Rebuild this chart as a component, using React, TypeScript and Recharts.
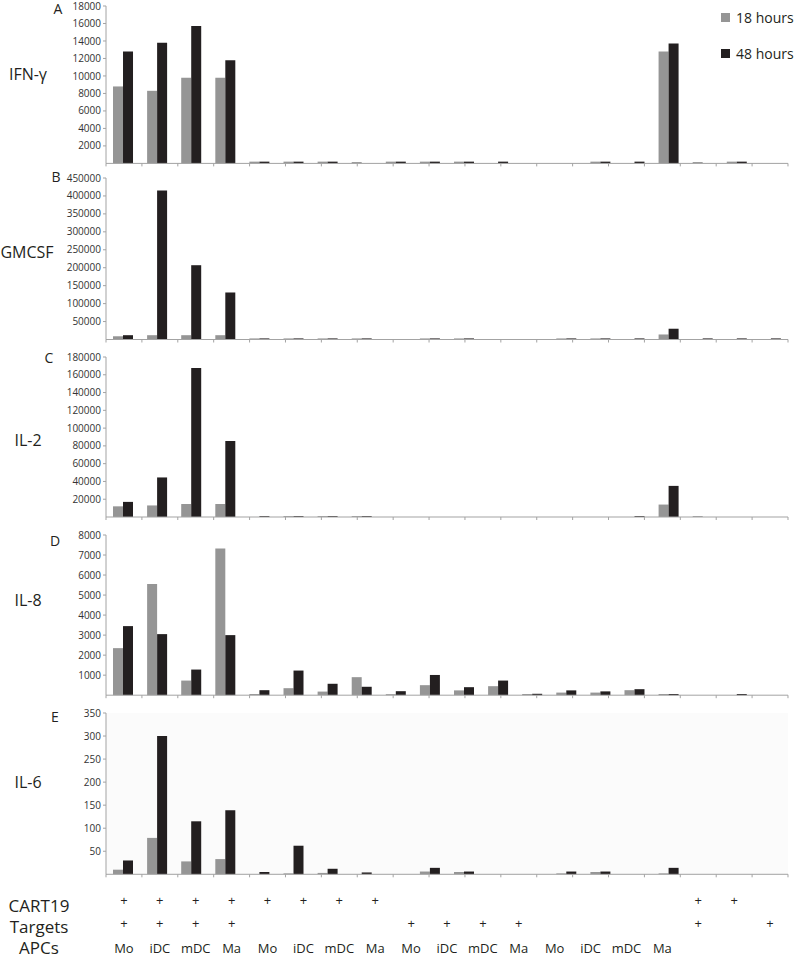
import React from 'react'
import { BarChart, Bar, XAxis, YAxis, CartesianGrid } from 'recharts'

const FONT = '"Open Sans", Arial, sans-serif'
const GREY = '#959595'
const BLACK = '#231f20'
const AXIS = '#a3a3a3'
const INK = '#231f20'

// 20 conditions: 4 APC blocks (CART19+targets, CART19, targets, APC only) + 3 controls + empty
const apcs = ['Mo', 'iDC', 'mDC', 'Ma', 'Mo', 'iDC', 'mDC', 'Ma', 'Mo', 'iDC', 'mDC', 'Ma', 'Mo', 'iDC', 'mDC', 'Ma', '', '', '', '']
const cart19 = [1, 1, 1, 1, 1, 1, 1, 1, 0, 0, 0, 0, 0, 0, 0, 0, 1, 1, 0, 0]
const targets = [1, 1, 1, 1, 0, 0, 0, 0, 1, 1, 1, 1, 0, 0, 0, 0, 1, 0, 1, 0]

const ifn18 = [8800, 8300, 9800, 9800, 200, 200, 200, 150, 200, 200, 200, 0, 0, 0, 200, 0, 12800, 150, 200, 0]
const ifn48 = [12800, 13800, 15700, 11800, 200, 200, 200, 0, 200, 200, 200, 200, 0, 0, 200, 200, 13700, 0, 200, 0]
const gm18 = [9000, 12000, 12000, 12000, 3000, 3000, 3000, 3000, 0, 3000, 3000, 0, 0, 3000, 3000, 0, 14000, 0, 0, 0]
const gm48 = [12000, 415000, 207000, 131000, 3000, 3000, 3000, 3000, 0, 3000, 3000, 0, 0, 3000, 3000, 3000, 30000, 3000, 3000, 3000]
const il2h18 = [12000, 13000, 14600, 14600, 0, 1000, 1000, 1000, 0, 0, 0, 0, 0, 0, 0, 0, 14000, 1000, 0, 0]
const il2h48 = [17000, 44500, 167500, 85500, 1000, 1000, 1000, 1000, 0, 0, 0, 0, 0, 0, 0, 1000, 35000, 0, 0, 0]
const il8h18 = [2350, 5550, 730, 7330, 60, 350, 180, 900, 50, 500, 240, 450, 60, 130, 130, 250, 60, 0, 0, 0]
const il8h48 = [3450, 3050, 1280, 3000, 250, 1230, 570, 420, 200, 1010, 400, 730, 70, 240, 190, 300, 60, 0, 60, 0]
const il6h18 = [10, 79, 28, 33, 0, 2, 3, 0, 0, 6, 5, 0, 0, 2, 5, 0, 2, 0, 0, 0]
const il6h48 = [30, 300, 115, 139, 5, 62, 12, 4, 0, 14, 6, 0, 0, 6, 6, 0, 14, 0, 0, 0]

const ifnTicks = [2000, 4000, 6000, 8000, 10000, 12000, 14000, 16000, 18000]
const gmTicks = [50000, 100000, 150000, 200000, 250000, 300000, 350000, 400000, 450000]
const il2Ticks = [20000, 40000, 60000, 80000, 100000, 120000, 140000, 160000, 180000]
const il8Ticks = [1000, 2000, 3000, 4000, 5000, 6000, 7000, 8000]
const il6Ticks = [50, 100, 150, 200, 250, 300, 350]

const N = apcs.length
const edgeTicks = Array.from({ length: N + 1 }, (_, i) => i)
const tableTicks = [...edgeTicks, ...apcs.map((_, i) => i + 0.5)]

const MT = 10

function EdgeTick(props: any) {
  const { x, y, payload, table } = props
  const v = payload.value
  if (Number.isInteger(v)) return <line x1={x} x2={x} y1={y} y2={y + 3} stroke={AXIS} />
  if (!table) return <g />
  const i = Math.floor(v)
  return (
    <g fontFamily={FONT} fill={INK} stroke="none" textAnchor="middle">
      {cart19[i] ? <text x={x} y={y + 26} fontSize={13} dominantBaseline="central">+</text> : null}
      {targets[i] ? <text x={x} y={y + 49} fontSize={13} dominantBaseline="central">+</text> : null}
      <text x={x} y={y + 74} fontSize={13} dominantBaseline="central">{apcs[i]}</text>
    </g>
  )
}

function Panel({ s18, s48, ticks, topY, zeroY, table, shade }: any) {
  const data = apcs.map((a, i) => ({ apc: a + i, h18: s18[i], h48: s48[i] }))
  const axisH = table ? 84 : 5
  const height = MT + (zeroY - topY) + axisH
  return (
    <div style={{ position: 'absolute', left: 0, top: topY - MT }}>
      <BarChart width={800} height={height} data={data} barSize={10} barGap={0}
        margin={{ top: MT, right: 12, left: 56, bottom: 0 }}>
        {shade ? <CartesianGrid horizontal={false} vertical={false} fill="#fbfbfb" /> : null}
        <XAxis xAxisId="cat" dataKey="apc" hide height={0} />
        <XAxis xAxisId="edge" type="number" domain={[0, N]} allowDataOverflow ticks={table ? tableTicks : edgeTicks}
          interval={0} height={axisH} tickSize={0} tickMargin={0} tickLine={false}
          axisLine={{ stroke: AXIS }} tick={(p: any) => <EdgeTick {...p} table={table} />} />
        <YAxis width={50} domain={[0, ticks[ticks.length - 1]]} ticks={ticks} interval={0}
          axisLine={{ stroke: AXIS }} tickLine={{ stroke: AXIS }} tickSize={3} tickMargin={2}
          tick={{ fontSize: 10, fill: '#333', fontFamily: FONT }} />
        <Bar xAxisId="cat" dataKey="h18" fill={GREY} isAnimationActive={false} />
        <Bar xAxisId="cat" dataKey="h48" fill={BLACK} isAnimationActive={false} />
      </BarChart>
    </div>
  )
}

const txt = (s: string, x: number, y: number, size: number, anchor = 'center') => (
  <div style={{
    position: 'absolute', left: x, top: y, fontSize: size, fontFamily: FONT, color: INK, lineHeight: 1,
    whiteSpace: 'nowrap', transform: anchor === 'center' ? 'translate(-50%, -50%)' : 'translate(0, -50%)',
  }}>{s}</div>
)

export default function App() {
  return (
    <div style={{ position: 'absolute', left: 0, top: 0, width: 800, height: 957, background: '#fff', overflow: 'hidden' }}>
      <Panel s18={ifn18} s48={ifn48} ticks={ifnTicks} topY={6} zeroY={163.4} />
      <Panel s18={gm18} s48={gm48} ticks={gmTicks} topY={178} zeroY={339.5} />
      <Panel s18={il2h18} s48={il2h48} ticks={il2Ticks} topY={357} zeroY={517} />
      <Panel s18={il8h18} s48={il8h48} ticks={il8Ticks} topY={535} zeroY={695.2} />
      <Panel s18={il6h18} s48={il6h48} ticks={il6Ticks} topY={712.7} zeroY={874} table shade />

      {txt('A', 58, 9, 14)}
      {txt('B', 56, 177, 14)}
      {txt('C', 49, 358, 14)}
      {txt('D', 55, 541, 14)}
      {txt('E', 55, 717, 14)}

      {txt('IFN-γ', 28, 74, 16)}
      {txt('GMCSF', 27, 252, 16)}
      {txt('IL-2', 28, 440, 16)}
      {txt('IL-8', 28, 600, 16)}
      {txt('IL-6', 28, 782, 16)}

      {txt('CART19', 39, 905, 17)}
      {txt('Targets', 39, 926, 17)}
      {txt('APCs', 39, 947, 17)}

      <div style={{ position: 'absolute', left: 721, top: 13, width: 9, height: 9, background: GREY }} />
      {txt('18 hours', 736, 17.5, 14, 'left')}
      <div style={{ position: 'absolute', left: 721, top: 49, width: 9, height: 9, background: BLACK }} />
      {txt('48 hours', 736, 53.5, 14, 'left')}
    </div>
  )
}
